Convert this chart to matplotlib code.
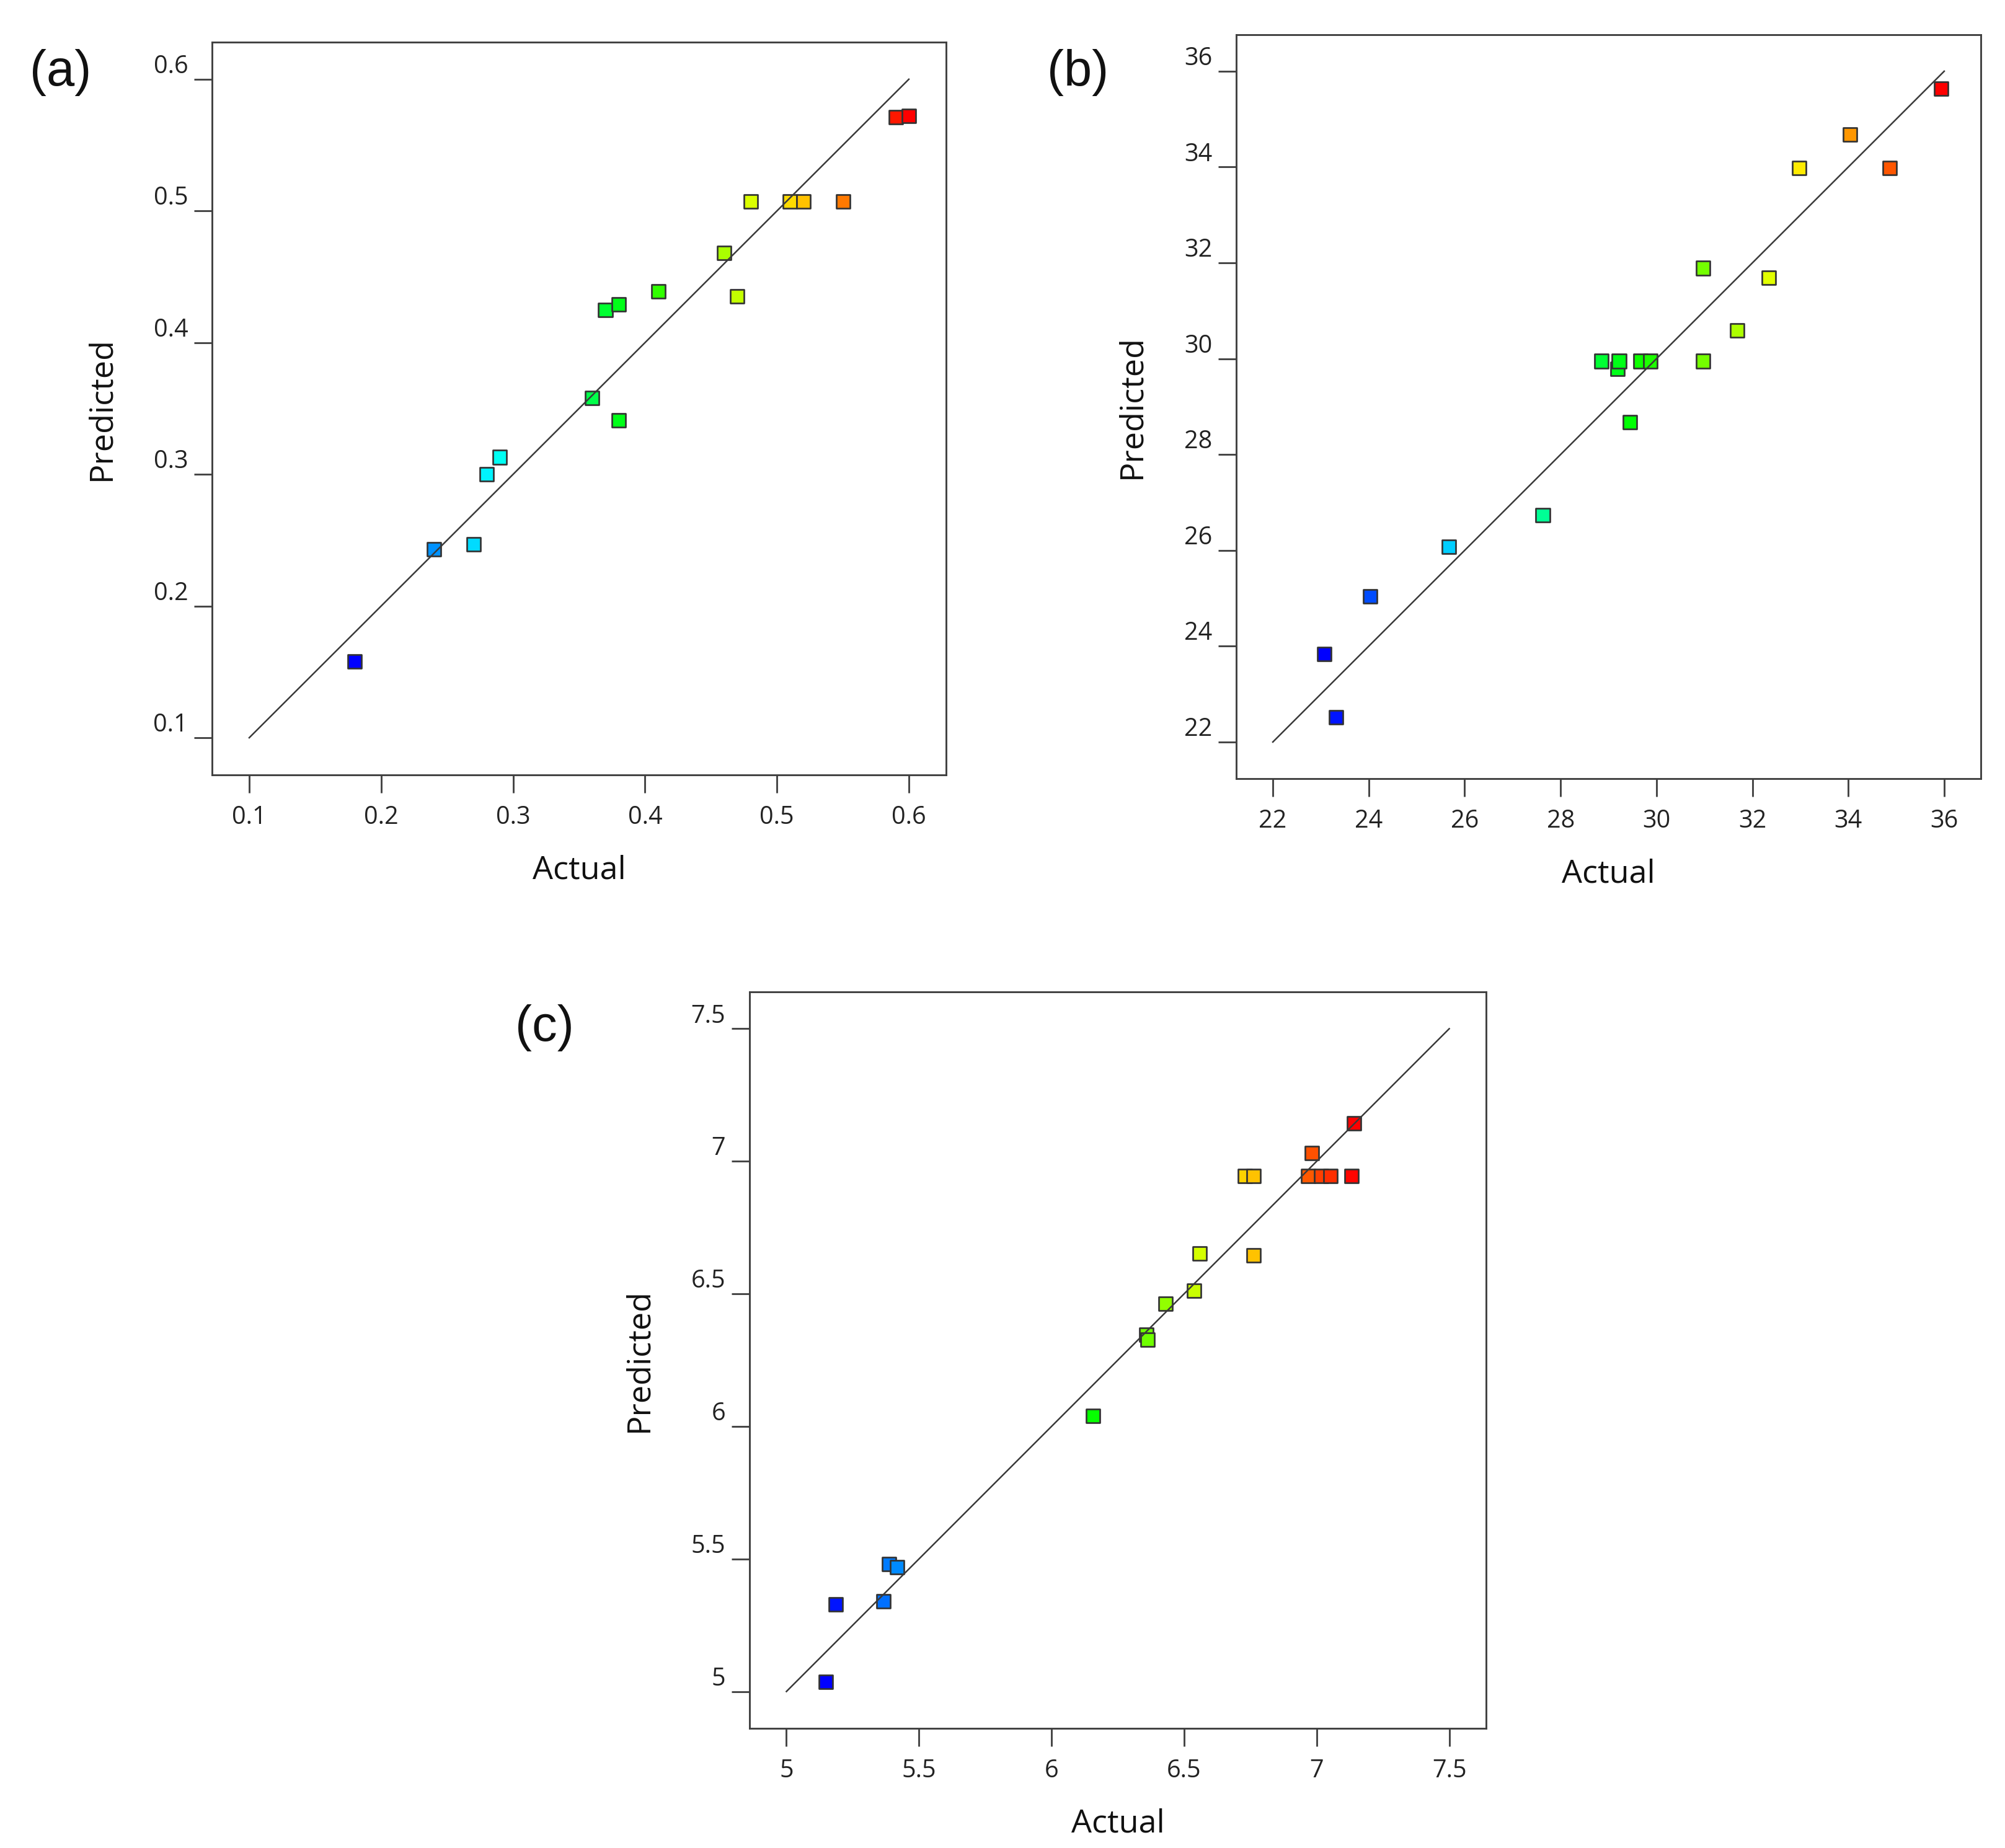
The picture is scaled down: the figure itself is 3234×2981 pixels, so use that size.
import numpy as np
import matplotlib
matplotlib.use("Agg")
from matplotlib import pyplot as plt
from matplotlib.colors import hsv_to_rgb

# (a) actual vs predicted
a_actual = [0.18, 0.24, 0.27, 0.28, 0.29, 0.36, 0.37, 0.38, 0.38, 0.41,
            0.46, 0.47, 0.48, 0.51, 0.52, 0.55, 0.59, 0.60]
a_pred = [0.158, 0.243, 0.247, 0.300, 0.313, 0.358, 0.425, 0.341, 0.429, 0.439,
          0.468, 0.435, 0.507, 0.507, 0.507, 0.507, 0.571, 0.572]
a_ticks = [0.1, 0.2, 0.3, 0.4, 0.5, 0.6]
a_labels = ["0.1", "0.2", "0.3", "0.4", "0.5", "0.6"]

# (b)
b_actual = [23.07, 23.32, 24.03, 25.67, 27.63, 28.85, 29.19, 29.22, 29.45, 29.67,
            29.87, 30.97, 30.97, 31.68, 32.34, 32.97, 34.04, 34.86, 35.94]
b_pred = [23.84, 22.52, 25.04, 26.08, 26.73, 29.95, 29.79, 29.95, 28.67, 29.95,
          29.95, 31.89, 29.95, 30.59, 31.69, 33.98, 34.68, 33.98, 35.64]
b_ticks = [22, 24, 26, 28, 30, 32, 34, 36]
b_labels = ["22", "24", "26", "28", "30", "32", "34", "36"]

# (c)
c_actual = [5.148, 5.187, 5.366, 5.388, 5.417, 6.157, 6.358, 6.362, 6.43, 6.537,
            6.559, 6.73, 6.762, 6.762, 6.968, 6.982, 7.017, 7.052, 7.132, 7.141]
c_pred = [5.037, 5.329, 5.341, 5.481, 5.468, 6.039, 6.345, 6.327, 6.463, 6.512,
          6.652, 6.944, 6.944, 6.645, 6.944, 7.030, 6.944, 6.944, 6.944, 7.144]
c_ticks = [5, 5.5, 6, 6.5, 7, 7.5]
c_labels = ["5", "5.5", "6", "6.5", "7", "7.5"]

FONT = "Open Sans"
EDGE = "#333333"


def value_colors(vals):
    # blue (low) -> green -> red (high), like Design-Expert
    v = np.asarray(vals, dtype=float)
    t = (v - v.min()) / (v.max() - v.min())
    hsv = np.stack([(2.0 / 3.0) * (1 - t), np.ones_like(t), np.ones_like(t)], axis=1)
    return hsv_to_rgb(hsv)


def panel(fig, rect, actual, pred, ticks, labels, lim, tag, tag_xy):
    ax = fig.add_axes(rect)
    ax.scatter(actual, pred, marker='s', s=5.3 ** 2, c=value_colors(actual),
               edgecolors=EDGE, linewidths=0.65, zorder=2)
    ax.plot([ticks[0], ticks[-1]], [ticks[0], ticks[-1]], color='#3a3a3a', lw=0.6, zorder=3)
    ax.set_xlim(lim)
    ax.set_ylim(lim)
    ax.set_xticks(ticks)
    ax.set_xticklabels(labels, fontfamily=FONT, fontsize=9.5, color='#222222')
    ax.set_yticks(ticks)
    ax.set_yticklabels(labels, fontfamily=FONT, fontsize=9.5, color='#222222')
    for t in ax.get_yticklabels():
        t.set_verticalalignment('bottom')
    ax.tick_params(axis='both', direction='out', length=6.9, width=0.7, color='#444444')
    ax.tick_params(axis='x', pad=4.8)
    ax.tick_params(axis='y', pad=2.4)
    for s in ax.spines.values():
        s.set_linewidth(0.7)
        s.set_color('#404040')
    ax.set_xlabel("Actual", fontfamily=FONT, fontsize=12.5, labelpad=9.5, color='#111111')
    ax.set_ylabel("Predicted", fontfamily=FONT, fontsize=12.5, labelpad=14, color='#111111')
    fig.text(tag_xy[0], tag_xy[1], tag, fontfamily="Liberation Sans", fontsize=19.5,
             ha='center', va='center', color='#111111')
    return ax


fig = plt.figure(figsize=(10.78, 9.937), dpi=300)

panel(fig, [0.10575, 0.58068, 0.3661, 0.39651], a_actual, a_pred, a_ticks, a_labels,
      (0.0718, 0.6282), "(a)", (0.0303, 0.9608))
panel(fig, [0.61657, 0.57867, 0.37137, 0.40255], b_actual, b_pred, b_ticks, b_labels,
      (21.237, 36.763), "(b)", (0.5377, 0.9608))
panel(fig, [0.37384, 0.06474, 0.36735, 0.39852], c_actual, c_pred, c_ticks, c_labels,
      (4.861, 7.639), "(c)", (0.2715, 0.4438))

fig.savefig("out.png", dpi=300)
